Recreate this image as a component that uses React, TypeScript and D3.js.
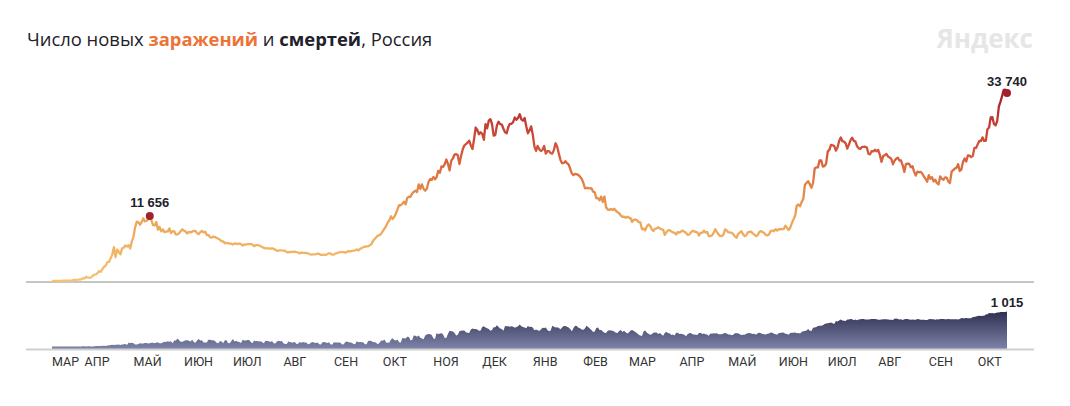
import React from "react";
import * as d3 from "d3";

// daily data, first value is 12 March 2020, last is 19 October 2021
const startDate = new Date(2020, 2, 12);

const cases = [
  // 2020 mar (from 12th)
  6, 11, 14, 4, 30, 21, 33, 52, 54, 53, 61, 71, 57, 163, 182, 196, 228, 270, 302, 501,
  // apr
  440, 771, 601, 582, 658, 954, 1154, 1175, 1459, 1786, 1667, 2186, 2558, 2774, 3388, 3448, 4070, 4785, 6060, 4268,
  5642, 5236, 4774, 5849, 5966, 6361, 6198, 6411, 5841, 7099,
  // may
  7933, 9623, 10633, 10581, 10102, 10559, 11231, 10699, 10817, 11012, 11656, 10899, 10028, 9974, 10598, 9200,
  9709, 8926, 9263, 8764, 8849, 8894, 9434, 8599, 8946, 8915, 8338, 8371, 8572, 8952, 9268,
  // jun
  9035, 8863, 8536, 8831, 8726, 8855, 8984, 8985, 8595, 8404, 8779, 8987, 8706, 8835, 8246, 8248, 7843, 7790,
  7972, 7889, 7728, 7600, 7425, 7176, 7113, 6800, 6852, 6791, 6719, 6693,
  // jul
  6556, 6760, 6718, 6632, 6736, 6611, 6368, 6562, 6509, 6635, 6611, 6615, 6537, 6248, 6422, 6428, 6406, 6234,
  6109, 5940, 5842, 5862, 5848, 5811, 5871, 5765, 5635, 5395, 5475, 5509, 5482,
  // aug
  5462, 5427, 5159, 5159, 5204, 5241, 5212, 5267, 5189, 5118, 4945, 5102, 5057, 5065, 5061, 4969, 4839, 4748,
  4790, 4767, 4838, 4921, 4852, 4676, 4696, 4711, 4676, 4829, 4980, 4897, 4729,
  // sep
  4729, 4952, 4995, 5110, 5205, 5185, 5195, 5099, 5218, 5363, 5310, 5406, 5449, 5509, 5670, 5488, 5762, 5905,
  6065, 6148, 6196, 6215, 6431, 6595, 7212, 7523, 7867, 8135, 8232, 8481,
  // oct
  8945, 9412, 9859, 10499, 10888, 11615, 11115, 11493, 12126, 12846, 13634, 13592, 13868, 14231, 13754, 14922,
  15150, 15099, 15700, 15982, 16202, 15971, 17340, 16521, 17347, 16550, 16202, 16550, 17717, 18283, 18140,
  // nov
  18665, 18257, 18648, 19768, 19404, 20582, 20498, 20977, 21798, 20977, 19851, 21608, 21983, 22702, 22778, 22572,
  20977, 22410, 23610, 24318, 24581, 24822, 25173, 24326, 23675, 25487, 27543, 27100, 26338, 26683,
  // dec
  26402, 25345, 28145, 27403, 28782, 29039, 28142, 26097, 26190, 27927, 28585, 28137, 28080, 27328, 26689, 26509,
  27656, 28214, 28209, 28552, 29350, 28948, 29258, 29935, 29018, 28771, 29246, 27787, 26513, 27039, 27747,
  // 2021 jan
  26301, 24150, 23351, 24246, 23652, 23309, 23541, 24217, 22851, 23309, 23315, 22934, 22857, 23541, 24715, 24092,
  22857, 21734, 21152, 21152, 21513, 21127, 20921, 20107, 19290, 18994, 19238, 19138, 19032, 18689, 18359,
  // feb
  17648, 16643, 16714, 16688, 16643, 16627, 16048, 15916, 14861, 14861, 14494, 15150, 14185, 15150, 13233, 12828,
  12742, 12953, 12742, 12954, 12604, 12370, 12152, 11749, 11534, 11534, 11359, 11534,
  // mar
  11385, 11279, 10595, 11024, 11024, 10880, 10565, 10535, 9270, 9437, 9079, 9808, 10146, 9908, 9299, 8952,
  9393, 9445, 9632, 9395, 9284, 9215, 8277, 8769, 9073, 9128, 8910, 8711, 8646, 8329, 8806,
  // apr
  8672, 8885, 9049, 8840, 8646, 8294, 8328, 8702, 8996, 8910, 8806, 8747, 8173, 8632, 8633, 9016, 8702, 8814,
  8053, 8053, 8173, 8632, 9284, 8780, 8381, 8053, 8042, 8304, 9270, 9072,
  // may
  8764, 8697, 8683, 8419, 8000, 7770, 8419, 8697, 8926, 8429, 8044, 8217, 8731, 8804, 8854, 8555, 8329, 8051,
  8217, 8788, 8951, 8785, 8632, 8272, 8173, 8380, 8947, 9068, 8951, 9289, 9035,
  // jun
  9288, 9289, 9301, 9327, 9908, 9573, 9145, 9557, 10407, 11059, 11699, 13510, 13721, 13397, 14185, 14723,
  17262, 17611, 17906, 17378, 16715, 17594, 20182, 20393, 20393, 21665, 21650, 20538, 20616, 21042,
  // jul
  23218, 23543, 24439, 24353, 24218, 23378, 23962, 25116, 25766, 25082, 25018, 24702, 23770, 24471, 25293, 25704,
  25155, 25033, 24166, 23811, 23704, 24071, 24072, 24105, 23947, 22804, 22732, 23321, 23270, 23564, 23270,
  // aug
  23508, 22589, 21378, 22420, 22589, 22804, 22336, 22160, 21932, 20957, 21571, 21932, 22144, 21624, 21624, 20765,
  19564, 20992, 21058, 21000, 20402, 20616, 19630, 18906, 19630, 19509, 19594, 19286, 18780, 18325, 17813,
  // sep
  18985, 18341, 18645, 17856, 18178, 17551, 17325, 18780, 18341, 18178, 18591, 18554, 17837, 17551, 19594, 19905,
  20174, 20329, 20959, 19744, 20000, 21379, 21986, 21438, 22528, 22498, 22236, 22430, 23888, 23888,
  // oct (to 19th)
  24522, 25133, 25110, 25781, 25133, 25133, 27246, 27550, 29362, 29409, 28190, 27926, 28717, 31299, 32196, 33208,
  34303, 34325, 33740,
];

const deaths = [
  // 2020 mar (from 12th)
  0, 0, 0, 0, 0, 0, 0, 1, 0, 0, 0, 0, 0, 1, 1, 0, 1, 0, 2, 8,
  // apr
  7, 2, 9, 4, 2, 2, 4, 13, 13, 12, 18, 22, 24, 18, 28, 36, 41, 48, 42, 51, 48, 57, 42, 60, 66, 72, 47, 108, 101, 107,
  // may
  96, 57, 58, 76, 95, 86, 88, 98, 104, 88, 94, 107, 107, 93, 113, 119, 94, 91, 115, 135, 127, 150, 139, 153, 92,
  174, 174, 232, 181, 138, 138,
  // jun
  162, 182, 178, 169, 144, 197, 134, 112, 171, 216, 171, 181, 119, 113, 114, 194, 194, 182, 181, 161, 109, 95,
  153, 154, 92, 176, 188, 104, 93, 154,
  // jul
  216, 147, 168, 135, 134, 104, 198, 173, 174, 186, 188, 130, 95, 175, 154, 159, 147, 150, 124, 95, 165, 160,
  154, 129, 161, 96, 85, 147, 169, 150, 161,
  // aug
  95, 70, 70, 144, 129, 119, 114, 130, 70, 80, 132, 109, 129, 115, 114, 68, 75, 114, 129, 111, 101, 119, 68, 59,
  122, 132, 118, 102, 121, 57, 61,
  // sep
  123, 117, 119, 115, 110, 55, 67, 129, 144, 122, 119, 106, 70, 66, 150, 124, 129, 123, 121, 66, 65, 160, 169,
  162, 122, 130, 99, 68, 108, 176,
  // oct
  169, 201, 117, 108, 118, 202, 239, 191, 174, 202, 120, 119, 244, 239, 232, 286, 278, 184, 186, 317, 309, 283,
  320, 255, 229, 212, 320, 346, 366, 358, 334,
  // nov
  239, 214, 389, 355, 378, 386, 349, 245, 256, 368, 456, 439, 432, 395, 322, 344, 442, 456, 463, 467, 410, 401,
  395, 491, 524, 507, 510, 496, 459, 466,
  // dec
  569, 589, 554, 530, 508, 456, 478, 561, 560, 613, 568, 524, 511, 456, 592, 585, 585, 576, 585, 571, 545, 564,
  587, 635, 585, 567, 551, 526, 595, 562, 570,
  // 2021 jan
  552, 473, 494, 474, 446, 490, 542, 534, 551, 475, 439, 466, 599, 575, 552, 558, 534, 499, 551, 597, 596, 572,
  550, 504, 444, 534, 600, 593, 543, 527, 492,
  // feb
  486, 524, 600, 568, 519, 478, 418, 432, 537, 549, 481, 481, 432, 396, 392, 458, 473, 462, 459, 434, 398, 388,
  447, 479, 420, 459, 416, 379,
  // mar
  406, 467, 476, 449, 421, 382, 338, 319, 301, 434, 461, 401, 371, 342, 357, 401, 407, 403, 361, 389, 349, 310,
  392, 428, 384, 382, 331, 351, 316, 396, 402,
  // apr
  363, 371, 353, 339, 300, 357, 382, 390, 355, 351, 338, 330, 392, 401, 366, 375, 356, 346, 315, 380, 367, 383,
  380, 382, 356, 357, 357, 380, 389, 377,
  // may
  350, 345, 327, 340, 387, 386, 381, 355, 336, 340, 339, 367, 386, 390, 377, 364, 373, 339, 384, 396, 382, 364,
  353, 351, 368, 379, 408, 397, 372, 356, 344,
  // jun
  395, 389, 403, 396, 372, 360, 340, 395, 396, 400, 404, 383, 390, 374, 418, 440, 453, 466, 508, 454, 453, 545,
  548, 568, 598, 601, 599, 619, 652, 669,
  // jul
  672, 679, 697, 672, 654, 737, 726, 752, 784, 752, 749, 738, 780, 786, 799, 791, 764, 780, 760, 784, 792, 799,
  796, 785, 784, 786, 788, 797, 799, 794, 790,
  // aug
  779, 776, 781, 790, 792, 789, 786, 778, 773, 769, 808, 815, 799, 786, 789, 770, 791, 799, 798, 786, 776, 782,
  777, 776, 795, 792, 778, 774, 776, 772, 769,
  // sep
  787, 798, 790, 793, 774, 792, 786, 796, 796, 799, 789, 792, 795, 792, 792, 790, 792, 790, 786, 799, 828, 820,
  820, 828, 819, 822, 817, 852, 857, 867,
  // oct (to 19th)
  887, 890, 887, 895, 895, 929, 936, 968, 962, 968, 957, 973, 984, 986, 999, 1002, 999, 1002, 1015,
];

const monthNames = ["ЯНВ", "ФЕВ", "МАР", "АПР", "МАЙ", "ИЮН", "ИЮЛ", "АВГ", "СЕН", "ОКТ", "НОЯ", "ДЕК"];

const W = 1070;
const H = 406;

const ru = d3.formatLocale({ decimal: ",", thousands: " ", grouping: [3], currency: ["", ""] });
const fmt = ru.format(",d");

export default function App() {
  const dates = cases.map((_, i) => d3.timeDay.offset(startDate, i));
  const last = cases.length - 1;

  const x = d3.scaleTime().domain([dates[0], dates[last]]).range([52, 1007]);
  const yC = d3.scaleLinear().domain([0, cases[last]]).range([281, 93]);
  const yD = d3.scaleLinear().domain([0, deaths[last]]).range([346.5, 311.5]);

  const line = d3
    .line<number>()
    .x((_, i) => x(dates[i]))
    .y((d) => yC(d));

  const area = d3
    .area<number>()
    .x((_, i) => x(dates[i]))
    .y0(349)
    .y1((d) => yD(d));

  // first wave peak (spring 2020)
  const firstWave = cases.slice(0, 120);
  const peakIdx = firstWave.indexOf(d3.max(firstWave) as number);

  // month labels start at the 1st, the first one is clamped to the data start
  const months = [dates[0], ...d3.timeMonth.range(d3.timeDay.offset(dates[0], 1), dates[last])];

  return (
    <svg
      width={W}
      height={H}
      style={{ position: "absolute", left: 0, top: 0, background: "#fff" }}
    >
      <defs>
        <linearGradient id="caseGrad" gradientUnits="userSpaceOnUse" x1={0} x2={0} y1={yC(0)} y2={yC(cases[last])}>
          <stop offset="0" stopColor="#f5c370" />
          <stop offset="0.33" stopColor="#eca458" />
          <stop offset="0.5" stopColor="#e38446" />
          <stop offset="0.68" stopColor="#d4583a" />
          <stop offset="0.85" stopColor="#c23c33" />
          <stop offset="1" stopColor="#a01f2c" />
        </linearGradient>
        <linearGradient id="deathGrad" gradientUnits="userSpaceOnUse" x1={0} x2={0} y1={yD(deaths[last])} y2={349}>
          <stop offset="0" stopColor="#2e3050" />
          <stop offset="1" stopColor="#7e83a9" />
        </linearGradient>
      </defs>

      <text x={27} y={46} fontFamily="'Open Sans', sans-serif" fontSize={18.4} fill="#21212b">
        Число новых <tspan fill="#ec7336" fontWeight="bold">заражений</tspan> и{" "}
        <tspan fontWeight="bold">смертей</tspan>, Россия
      </text>
      <text
        x={1033}
        y={48}
        textAnchor="end"
        fontFamily="'Open Sans', sans-serif"
        fontWeight="bold"
        fontSize={26}
        fill="#e6e6e6"
      >
        Яндекс
      </text>

      <line x1={26} x2={1034} y1={282} y2={282} stroke="#8c8c8c" strokeWidth={1} />

      <path d={line(cases) ?? ""} fill="none" stroke="url(#caseGrad)" strokeWidth={2.3} strokeLinejoin="round" />

      <circle cx={x(dates[peakIdx])} cy={yC(cases[peakIdx])} r={4} fill="#a3202d" />
      <circle cx={x(dates[last])} cy={yC(cases[last])} r={4} fill="#a3202d" />
      <g fontFamily="'Liberation Sans', Arial, sans-serif" fontWeight="bold" fontSize={13} fill="#21212b" textAnchor="middle">
        <text x={x(dates[peakIdx])} y={yC(cases[peakIdx]) - 9}>
          {fmt(cases[peakIdx])}
        </text>
        <text x={x(dates[last])} y={yC(cases[last]) - 7}>
          {fmt(cases[last])}
        </text>
        <text x={x(dates[last])} y={yD(deaths[last]) - 5}>
          {fmt(deaths[last])}
        </text>
      </g>

      <path d={area(deaths) ?? ""} fill="url(#deathGrad)" />
      <line x1={26} x2={1034} y1={349.5} y2={349.5} stroke="#cfcfcf" strokeWidth={2} />

      <g fontFamily="Roboto, sans-serif" fontSize={12.5} fill="#333">
        {months.map((m, i) => (
          <text key={i} x={x(m)} y={366}>
            {monthNames[m.getMonth()]}
          </text>
        ))}
      </g>
    </svg>
  );
}
